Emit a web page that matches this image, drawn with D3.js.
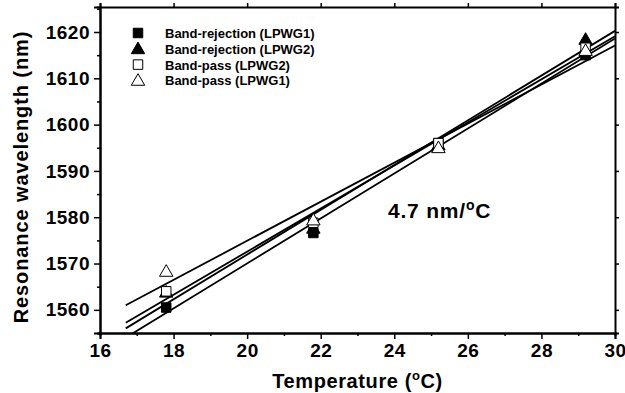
<!DOCTYPE html>
<html lang="en">
<head>
    <meta charset="UTF-8">
    <title>Resonance wavelength vs temperature</title>
    <script src="https://d3js.org/d3.v7.min.js"></script>
    <style>
        body { margin: 0; background: #fff; }
        svg text { font-family: "Liberation Sans", Arial, sans-serif; font-weight: bold; fill: #000; }
    </style>
</head>
<body>
    <div id="chart-container"></div>

    <script>
        // data
        const temps = [17.8, 21.8, 25.2, 29.2];
        const brLPWG1 = [1560.5, 1576.6, 1596.0, 1615.0];
        const brLPWG2 = [1563.8, 1577.6, 1595.6, 1618.4];
        const bpLPWG2 = [1564.0, 1578.8, 1596.0, 1616.6];
        const bpLPWG1 = [1568.3, 1579.4, 1595.0, 1616.0];
        const xTicks = [16, 18, 20, 22, 24, 26, 28, 30];
        const yTicks = [1560, 1570, 1580, 1590, 1600, 1610, 1620];

        const seriesList = [
            { name: "Band-rejection (LPWG1)", values: brLPWG1, shape: "square", filled: true },
            { name: "Band-rejection (LPWG2)", values: brLPWG2, shape: "triangle", filled: true },
            { name: "Band-pass (LPWG2)", values: bpLPWG2, shape: "square", filled: false },
            { name: "Band-pass (LPWG1)", values: bpLPWG1, shape: "triangle", filled: false }
        ];

        const containerWidth = 625;
        const containerHeight = 393;
        const margins = { top: 7, right: 10, bottom: 60, left: 100 };
        const width = containerWidth - margins.left - margins.right;
        const height = containerHeight - margins.top - margins.bottom;

        const svg = d3.select("#chart-container")
            .append("svg")
            .attr("width", containerWidth)
            .attr("height", containerHeight)
            .append("g")
            .attr("transform", `translate(${margins.left},${margins.top})`);

        const x = d3.scaleLinear().domain([16, 30]).range([0, width]);
        const y = d3.scaleLinear().domain([1555, 1625.4]).range([height, 0]);

        svg.append("defs").append("clipPath").attr("id", "plot-clip")
            .append("rect").attr("width", width).attr("height", height);

        // least squares fit for each series
        function fit(xs, ys) {
            const mx = d3.mean(xs), my = d3.mean(ys);
            let num = 0, den = 0;
            xs.forEach((v, i) => { num += (v - mx) * (ys[i] - my); den += (v - mx) * (v - mx); });
            const slope = num / den;
            return { slope: slope, intercept: my - slope * mx };
        }

        const lineX = [16.7, 30];
        seriesList.forEach(s => {
            const f = fit(temps, s.values);
            svg.append("line")
                .attr("clip-path", "url(#plot-clip)")
                .attr("x1", x(lineX[0]))
                .attr("y1", y(f.intercept + f.slope * lineX[0]))
                .attr("x2", x(lineX[1]))
                .attr("y2", y(f.intercept + f.slope * lineX[1]))
                .attr("stroke", "#000")
                .attr("stroke-width", 1.8);
        });

        function symbolPath(shape) {
            return shape === "square"
                ? d3.symbol(d3.symbolSquare, 90)()
                : d3.symbol(d3.symbolTriangle, 78)();
        }

        // markers in series order, hollow ones have a white fill
        seriesList.forEach(s => {
            svg.selectAll(null)
                .data(s.values)
                .enter()
                .append("path")
                .attr("d", symbolPath(s.shape))
                .attr("transform", (d, i) => `translate(${x(temps[i])},${y(d) + (s.shape === "triangle" ? 1 : 0)})`)
                .attr("fill", s.filled ? "#000" : "#fff")
                .attr("stroke", "#000")
                .attr("stroke-width", 1);
        });

        // axes
        svg.append("g")
            .attr("transform", `translate(0,${height})`)
            .call(d3.axisBottom(x).tickValues(xTicks).tickSize(6).tickPadding(5).tickFormat(d3.format("d")));
        svg.append("g")
            .attr("transform", `translate(0,${height})`)
            .call(d3.axisBottom(x).tickValues(d3.range(17, 30, 2)).tickSize(3).tickFormat(""));

        svg.append("g")
            .call(d3.axisLeft(y).tickValues(yTicks).tickSize(6).tickPadding(4).tickFormat(d3.format("d")));
        svg.append("g")
            .call(d3.axisLeft(y).tickValues([1555, 1565, 1575, 1585, 1595, 1605, 1615, 1625]).tickSize(3).tickFormat(""));

        // mirror axes on top and right
        svg.append("g")
            .call(d3.axisTop(x).tickValues(xTicks).tickSize(4).tickFormat(""));
        svg.append("g")
            .attr("transform", `translate(${width},0)`)
            .call(d3.axisRight(y).tickValues(yTicks).tickSize(4).tickFormat(""));

        svg.selectAll(".domain").attr("stroke", "#000").attr("stroke-width", 2);
        svg.selectAll(".tick line").attr("stroke", "#000").attr("stroke-width", 1.5);
        svg.selectAll(".tick text")
            .style("font-size", "19px")
            .style("letter-spacing", "0.5px")
            .attr("fill", "#000");

        // axis titles
        const xTitle = svg.append("text")
            .attr("x", width / 2)
            .attr("y", height + 55)
            .attr("text-anchor", "middle")
            .style("font-size", "20px")
            .style("letter-spacing", "0.6px");
        xTitle.append("tspan").text("Temperature (");
        xTitle.append("tspan").attr("dy", -8).style("font-size", "13px").text("o");
        xTitle.append("tspan").attr("dy", 8).text("C)");

        svg.append("text")
            .attr("transform", `translate(-72,${height / 2 + 7}) rotate(-90)`)
            .attr("text-anchor", "middle")
            .style("font-size", "20px")
            .style("letter-spacing", "0.9px")
            .text("Resonance wavelength (nm)");

        // slope annotation
        const note = svg.append("text")
            .attr("x", 288)
            .attr("y", 211)
            .style("font-size", "21px")
            .style("letter-spacing", "0.8px");
        note.append("tspan").text("4.7 nm/");
        note.append("tspan").attr("dy", -8).style("font-size", "14px").text("o");
        note.append("tspan").attr("dy", 8).text("C");

        // legend
        const legend = svg.append("g").attr("transform", "translate(38,26)");
        seriesList.forEach((s, i) => {
            const row = legend.append("g").attr("transform", `translate(0,${i * 15.8})`);
            row.append("path")
                .attr("d", symbolPath(s.shape))
                .attr("transform", `translate(0,${s.shape === "triangle" ? 1 : 0})`)
                .attr("fill", s.filled ? "#000" : "#fff")
                .attr("stroke", "#000")
                .attr("stroke-width", 1);
            row.append("text")
                .attr("x", 27)
                .attr("y", 5)
                .style("font-size", "13px")
                .text(s.name);
        });
    </script>
</body>
</html>
